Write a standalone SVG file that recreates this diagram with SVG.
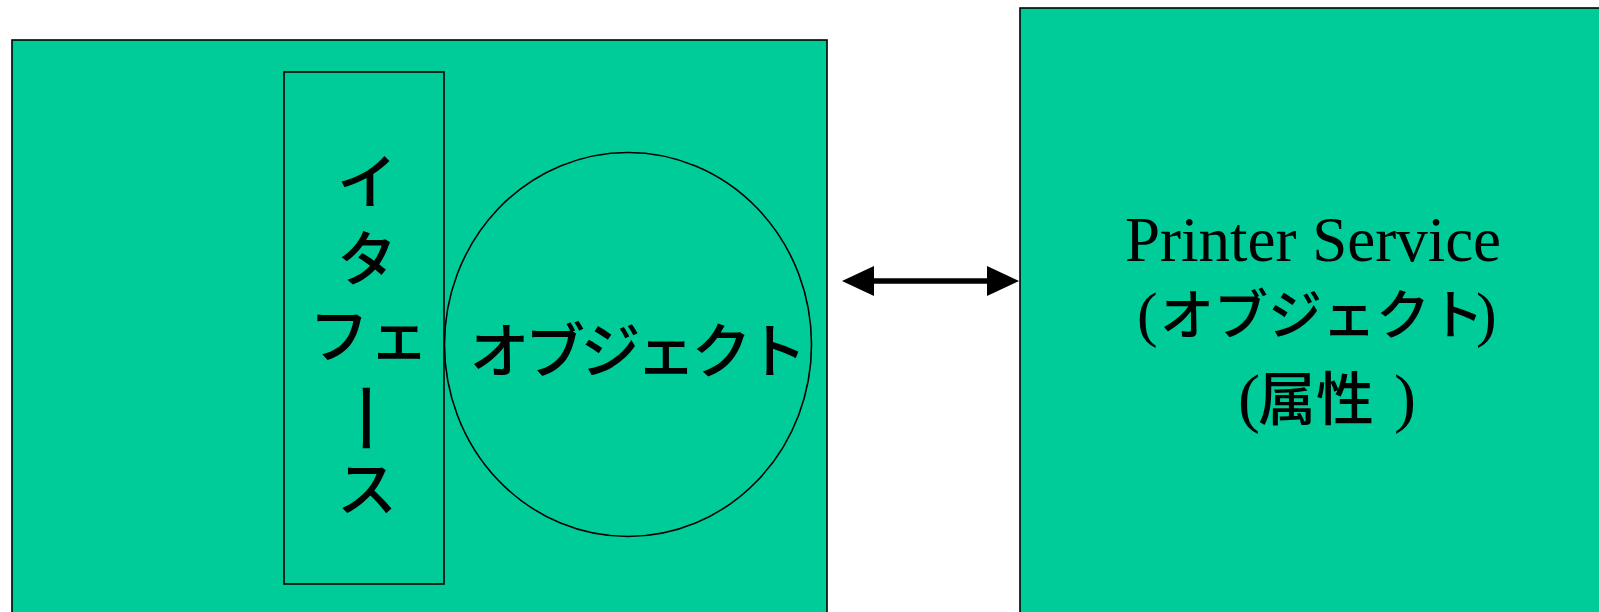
<svg xmlns="http://www.w3.org/2000/svg" width="1599" height="612" viewBox="0 0 1599 612">
<style>
.box{fill:#00CC99;stroke:#000;stroke-width:1.6}
.ln{fill:none;stroke:#000;stroke-width:1.6}
.jp{font-family:"Noto Sans CJK JP","Noto Sans CJK SC",sans-serif;font-weight:500;fill:#000}
.en{font-family:"Liberation Serif",serif;font-weight:normal;fill:#000}
</style>
<defs>
<marker id="ah" viewBox="0 0 32 30" refX="13" refY="15" markerWidth="32" markerHeight="30" markerUnits="userSpaceOnUse" orient="auto-start-reverse">
<path d="M0,0 L32,15 L0,30 Z" fill="#000"/>
</marker>
</defs>
<rect width="1599" height="612" fill="#fff"/>
<g id="client">
<rect class="box" x="12" y="40" width="815" height="600"/>
</g>
<g id="interface">
<rect class="ln" x="284" y="72" width="160" height="512"/>
<g class="jp" font-size="60" text-anchor="middle">
<text x="367" y="204">イ</text>
<text x="367" y="281">タ</text>
<text x="369" y="358">フェ</text>
<text transform="translate(362.5,418) rotate(90)" x="0" y="26" font-size="76" font-weight="normal">ー</text>
<text x="367" y="511">ス</text>
</g>
</g>
<g id="object">
<ellipse class="ln" cx="628" cy="344.5" rx="183.5" ry="192"/>
<text class="jp" x="636" y="373" font-size="60" letter-spacing="-4.5" text-anchor="middle">オブジェクト</text>
</g>
<g id="printer-service">
<rect class="box" x="1020" y="8" width="600" height="640"/>
<text class="en" x="1313" y="261" font-size="63" text-anchor="middle">Printer Service</text>
<text y="335"><tspan class="en" x="1137" font-size="62">(</tspan><tspan class="jp" x="1160" font-size="54">オブジェクト</tspan><tspan class="en" x="1476" font-size="62">)</tspan></text>
<text y="420"><tspan class="en" x="1238" font-size="66">(</tspan><tspan class="jp" x="1258" font-size="58">属性</tspan><tspan class="en" x="1394" font-size="66">)</tspan></text>
</g>
<g id="connectors">
<line x1="861" y1="281" x2="1000" y2="281" stroke="#000" stroke-width="5.5" marker-start="url(#ah)" marker-end="url(#ah)"/>
</g>
</svg>
